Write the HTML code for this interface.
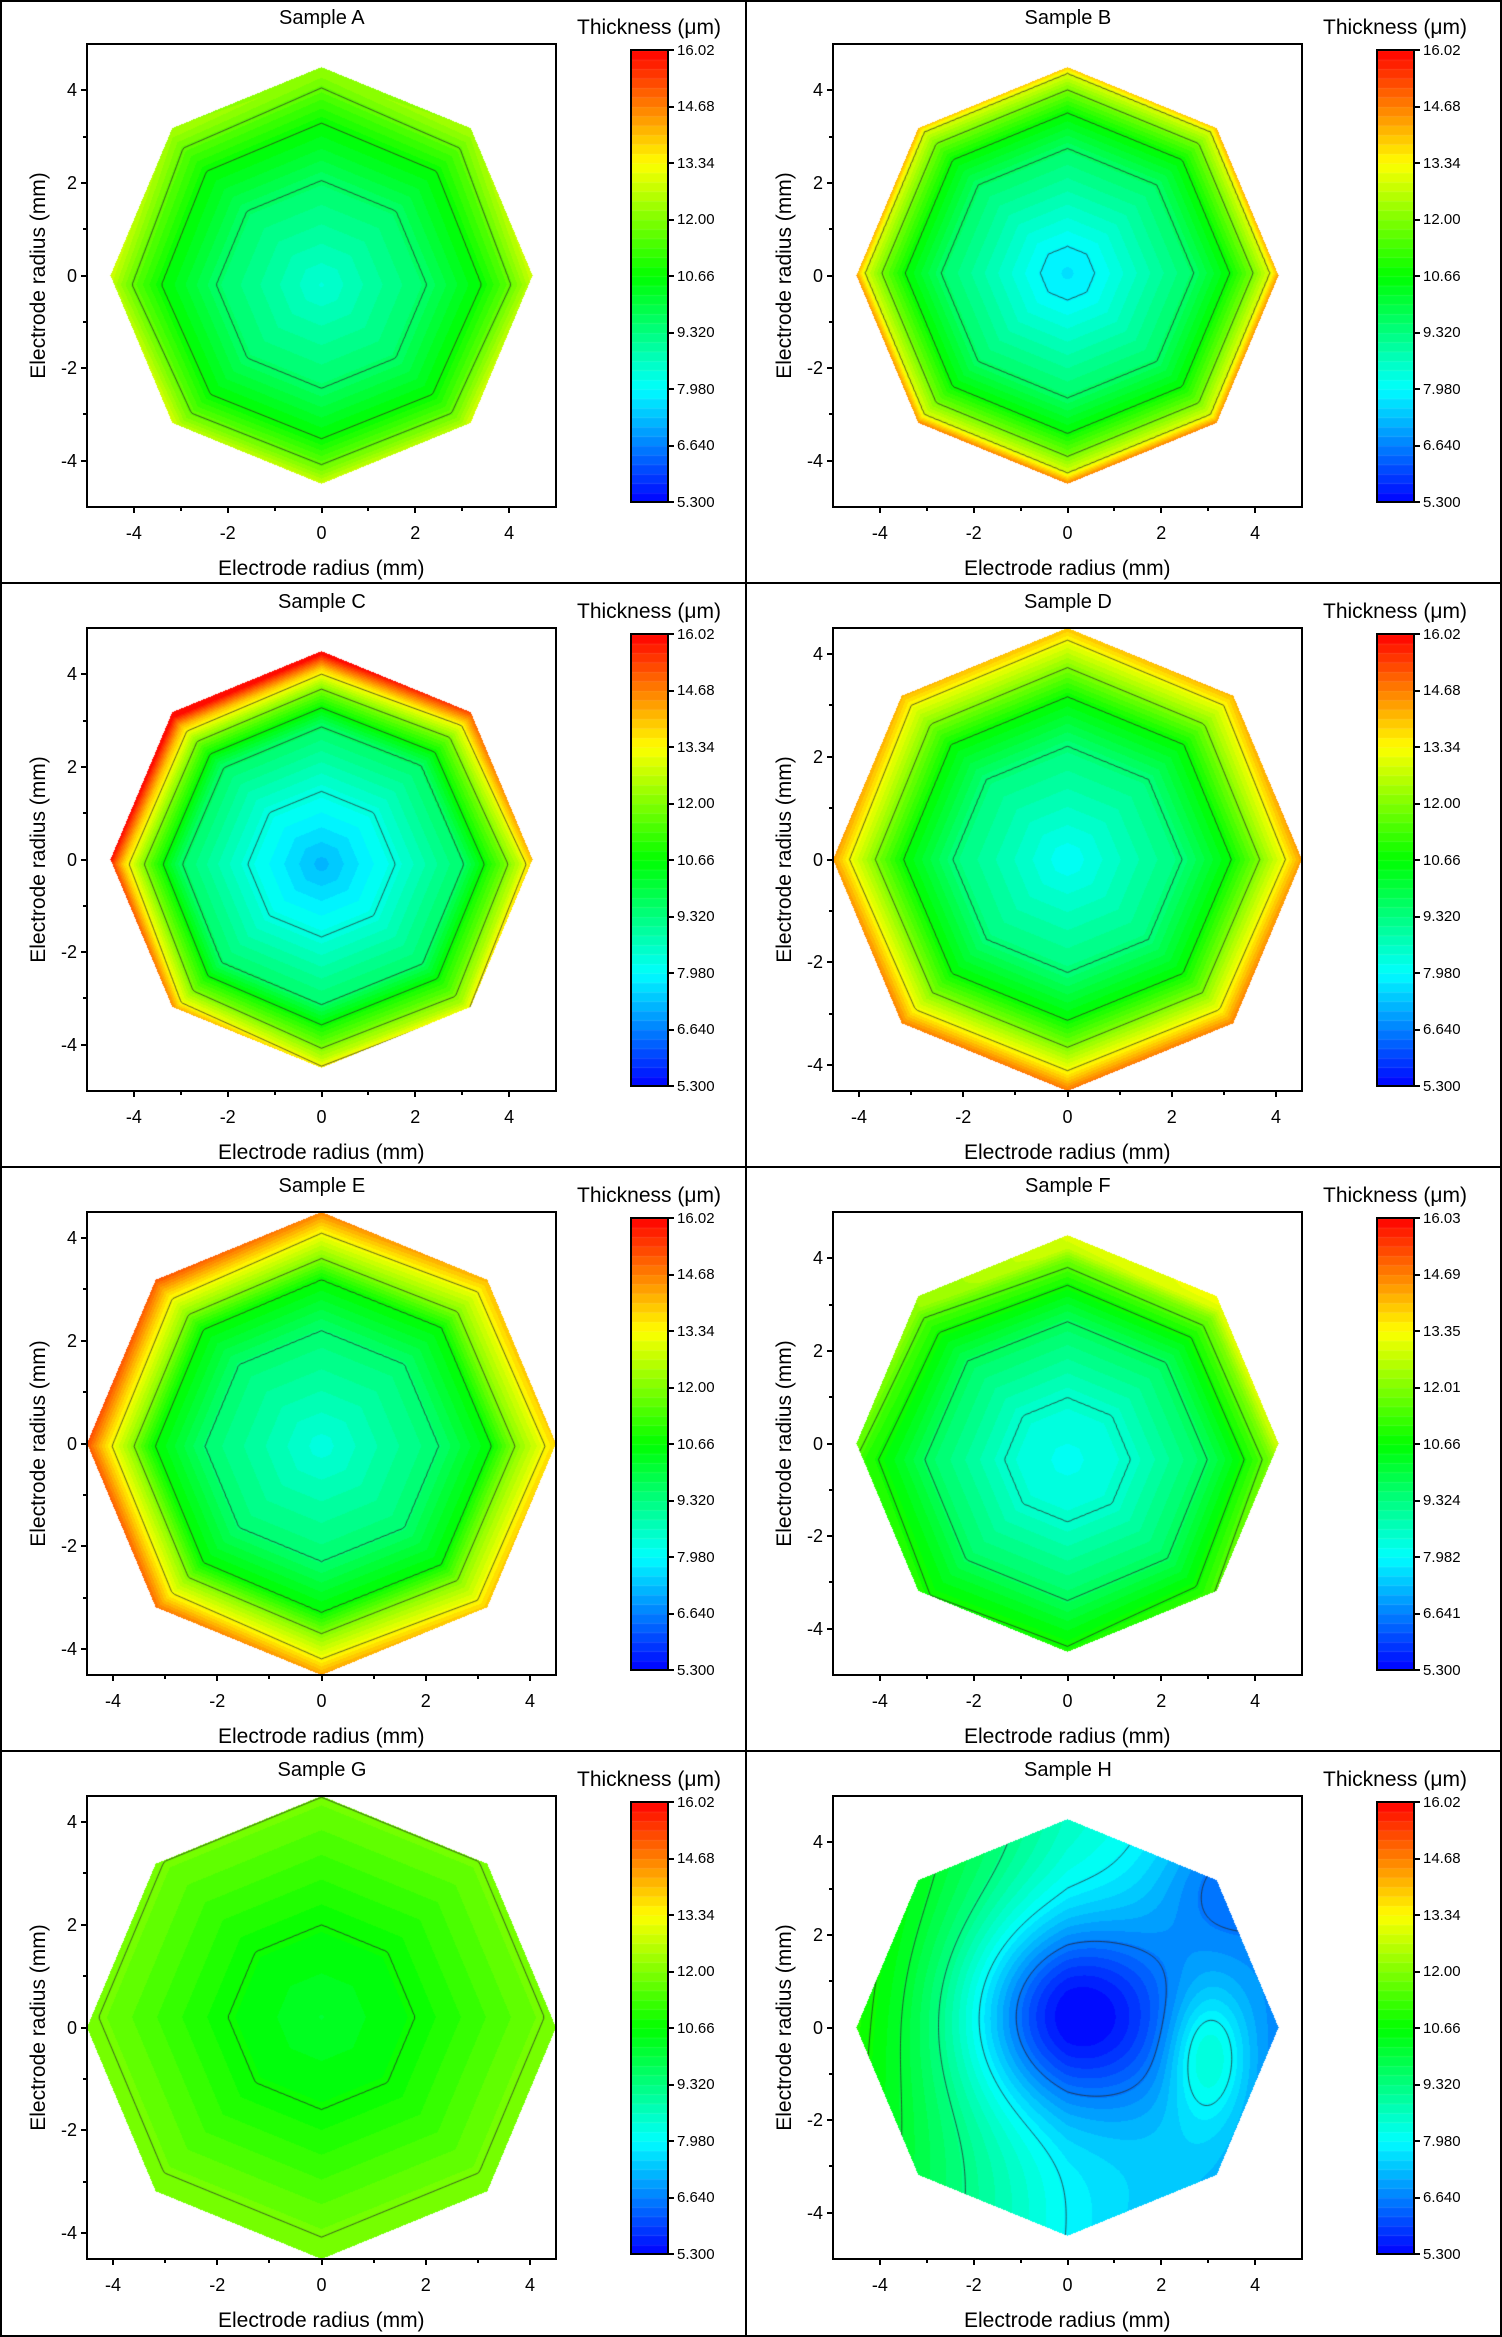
<!DOCTYPE html>
<html><head><meta charset="utf-8">
<style>
body{margin:0;background:#fff;}
#root{position:relative;width:1502px;height:2337px;overflow:hidden;background:#fff;font-family:"Liberation Sans",Arial,sans-serif;color:#000;}
.t{position:absolute;white-space:nowrap;line-height:1;}
.ln{position:absolute;background:#000;}
canvas{position:absolute;}
</style></head>
<body><div id="root"></div>
<script>
var root=document.getElementById('root');
function el(tag,css,txt){var e=document.createElement(tag);e.style.cssText=css;if(txt!==undefined)e.textContent=txt;root.appendChild(e);return e;}
function txt(s,x,y,size,anchor,extra){var e=el('div','font-size:'+size+'px;left:'+x+'px;top:'+y+'px;'+(extra||''),s);e.className='t';
 var w=e.offsetWidth,h=e.offsetHeight; if(anchor==='c'){e.style.left=(x-w/2)+'px';e.style.top=(y-h/2)+'px';}
 else if(anchor==='l'){e.style.top=(y-h/2)+'px';} else if(anchor==='r'){e.style.left=(x-w)+'px';e.style.top=(y-h/2)+'px';}return e;}
function line(x,y,w,h){var e=el('div','left:'+x+'px;top:'+y+'px;width:'+w+'px;height:'+h+'px;');e.className='ln';}
var VMIN=5.3,VMAX=16.02,NB=48,STEP=(VMAX-VMIN)/NB;
function cmap(v){var t=(v-VMIN)/(VMAX-VMIN);t=Math.max(0,Math.min(1,t));var s=t*4,i=Math.min(3,Math.floor(s)),f=s-i;
 var c=[[0,0,255],[0,255,255],[0,255,0],[255,255,0],[255,0,0]];var a=c[i],b=c[i+1];
 return [a[0]+(b[0]-a[0])*f,a[1]+(b[1]-a[1])*f,a[2]+(b[2]-a[2])*f];}
function qcol(v){var b=Math.floor((v-VMIN)/STEP);b=Math.max(0,Math.min(NB-1,b));return cmap(VMIN+(b+0.5)*STEP);}
var C22=Math.cos(Math.PI/8);
function oct(dx,dy){var r=Math.hypot(dx,dy);if(r===0)return 0;var th=Math.atan2(dy,dx);var q=Math.PI/4;
 var phi=((th%q)+q)%q-Math.PI/8;return r/(4.5*C22/Math.cos(phi));}
function interp(p,x){if(x<=p[0][0])return p[0][1];for(var i=1;i<p.length;i++){if(x<=p[i][0]){var a=p[i-1],b=p[i];return a[1]+(b[1]-a[1])*(x-a[0])/(b[0]-a[0]);}}
 var a=p[p.length-2],b=p[p.length-1];return b[1]+(b[1]-a[1])*(x-b[0])/(b[0]-a[0]);}
function profF(s){return function(x,y){var rho=oct(x-(s.cx||0),y-(s.cy||0));var v=interp(s.prof,Math.min(rho,1.02));
 if(s.asym){v+=Math.pow(Math.min(rho,1.05),6)*(s.asym[0]*x+s.asym[1]*y)/4.5;}return v;};}
function g(x,y,x0,y0,a,sx,sy){sy=sy||sx;return a*Math.exp(-((x-x0)*(x-x0)/(2*sx*sx)+(y-y0)*(y-y0)/(2*sy*sy)));}
var hF=function(x,y){return 8.3-(x<0?0.6:0.35)*x+0.08*y+g(x,y,0,0.3,-3.0,1.6,1.5)+g(x,y,3,-0.6,1.6,0.6,1.0)+g(x,y,3.3,3.1,-0.9,1.0)+g(x,y,3,-2.8,0.3,1.0);};
var P=[
 {n:'Sample A',c:0,r:0,xr:5,yr:5,cy:-0.2,prof:[[0,8.4],[0.5,9.6],[0.76,10.7],[0.9,11.7],[1,12.7]],lines:[0.5,0.76,0.9],asym:[0,-0.7]},
 {n:'Sample B',c:1,r:0,xr:5,yr:5,cy:0.05,prof:[[0,7.7],[0.13,7.95],[0.6,9.6],[0.77,10.7],[0.88,11.9],[0.96,13.0],[1,14.3]],lines:[0.13,0.6,0.77,0.88,0.96]},
 {n:'Sample C',c:0,r:1,xr:5,yr:5,cy:-0.1,prof:[[0,7.2],[0.35,8.3],[0.67,9.6],[0.76,10.7],[0.86,12.0],[0.94,13.3],[1,14.8]],lines:[0.35,0.67,0.76,0.86,0.94],asym:[-0.9,0.9]},
 {n:'Sample D',c:1,r:1,xr:4.5,yr:4.5,cy:0,prof:[[0,8.0],[0.49,9.4],[0.7,10.7],[0.82,12.0],[0.93,13.3],[1,14.4]],lines:[0.49,0.7,0.82,0.93],asym:[0,-0.4]},
 {n:'Sample E',c:0,r:2,xr:4.5,yr:4.5,cy:-0.05,prof:[[0,8.3],[0.5,9.5],[0.72,10.7],[0.81,12],[0.92,13.3],[1,14.5]],lines:[0.5,0.72,0.81,0.92],asym:[-0.7,0]},
 {n:'Sample F',c:1,r:2,xr:5,yr:5,cy:-0.35,prof:[[0,8.1],[0.3,8.5],[0.67,9.7],[0.86,10.8],[0.96,11.5],[1,12.0]],lines:[0.3,0.67,0.86,0.96],asym:[0.5,0.5],cb:['16.03','14.69','13.35','12.01','10.66','9.324','7.982','6.641','5.300']},
 {n:'Sample G',c:0,r:3,xr:4.5,yr:4.5,cy:0.2,prof:[[0,10.2],[0.4,10.7],[0.95,11.85],[1,11.95]],lines:[0.4,0.95]},
 {n:'Sample H',c:1,r:3,xr:5,yr:5,H:true}
];
var PL=87,PT=44,PW=469,PH=463;
P.forEach(function(s){
 var ox=s.c?746:0,oy=s.r*584;
 var f=s.H?hF:profF(s);
 var levels;
 if(s.H){levels=[hF(-4.2,0),hF(-3.55,0),hF(-2.75,0),6.6,7.95];}
 else levels=s.lines.map(function(r){return interp(s.prof,r);});
 var cv=document.createElement('canvas');cv.width=PW;cv.height=PH;cv.style.left=(ox+PL)+'px';cv.style.top=(oy+PT)+'px';root.appendChild(cv);
 var ctx=cv.getContext('2d');var img=ctx.createImageData(PW,PH);var d=img.data;
 function dx(px){return -s.xr+px/PW*2*s.xr;} function dy(py){return s.yr-py/PH*2*s.yr;}
 function px(x){return (x+s.xr)/(2*s.xr)*PW;} function py(y){return (s.yr-y)/(2*s.yr)*PH;}
 for(var j=0;j<PH;j++)for(var i=0;i<PW;i++){var x=dx(i+0.5),y=dy(j+0.5);if(oct(x,y)>1)continue;
  var c=qcol(f(x,y));var k=(j*PW+i)*4;d[k]=c[0];d[k+1]=c[1];d[k+2]=c[2];d[k+3]=255;}
 ctx.putImageData(img,0,0);
 ctx.save();ctx.beginPath();for(var a=0;a<8;a++){var an=a*Math.PI/4;var X=px(4.5*Math.cos(an)),Y=py(4.5*Math.sin(an));if(a)ctx.lineTo(X,Y);else ctx.moveTo(X,Y);}ctx.closePath();ctx.clip();
 ctx.strokeStyle='rgba(40,40,40,0.85)';ctx.lineWidth=0.9;
 var N=160,grid=[];for(var i=0;i<=N;i++){grid.push([]);for(var j=0;j<=N;j++){var x=-4.6+9.2*i/N,y=-4.6+9.2*j/N;grid[i].push(f(x,y));}}
 function gx(i){return px(-4.6+9.2*i/N);} function gy(j){return py(-4.6+9.2*j/N);}
 ctx.beginPath();
 levels.forEach(function(L){
  for(var i=0;i<N;i++)for(var j=0;j<N;j++){
   var v0=grid[i][j],v1=grid[i+1][j],v2=grid[i+1][j+1],v3=grid[i][j+1];var pts=[];
   function e(va,vb,xa,ya,xb,yb){if((va<L)!==(vb<L)){var t=(L-va)/(vb-va);pts.push([xa+(xb-xa)*t,ya+(yb-ya)*t]);}}
   e(v0,v1,gx(i),gy(j),gx(i+1),gy(j));e(v1,v2,gx(i+1),gy(j),gx(i+1),gy(j+1));e(v2,v3,gx(i+1),gy(j+1),gx(i),gy(j+1));e(v3,v0,gx(i),gy(j+1),gx(i),gy(j));
   for(var k=0;k+1<pts.length;k+=2){ctx.moveTo(pts[k][0],pts[k][1]);ctx.lineTo(pts[k+1][0],pts[k+1][1]);}
  }});
 ctx.stroke();ctx.restore();
 var L0=ox+PL,T0=oy+PT;
 line(L0-1,T0-1,2,PH+2);line(L0+PW-1,T0-1,2,PH+2);line(L0-1,T0-1,PW+2,2);line(L0-1,T0+PH-1,PW+2,2);
 for(var t=-4;t<=4;t++){ if(Math.abs(t)>s.xr)continue;var X=L0+px(t),maj=(t%2===0);
  line(X-1,T0+PH,2,maj?6:4); if(maj)txt(String(t),X,T0+PH+26,18,'c');}
 for(var t=-4;t<=4;t++){ if(Math.abs(t)>s.yr)continue;var Y=T0+py(t),maj=(t%2===0);
  line(L0-(maj?6:4),Y-1,maj?6:4,2); if(maj)txt(String(t),L0-10,Y,18,'r');}
 txt('Electrode radius (mm)',L0+PW/2,oy+568,21,'c');
 txt('Electrode radius (mm)',ox+38,T0+PH/2,21,'c','transform:rotate(-90deg);');
 txt(s.n,ox+322,oy+18,20,'c');
 txt('Thickness (\u03bcm)',ox+649,oy+27,21,'c');
 var cb=document.createElement('canvas');cb.width=37;cb.height=452;cb.style.left=(ox+631)+'px';cb.style.top=(oy+50)+'px';root.appendChild(cb);
 var c2=cb.getContext('2d');var bh=452/NB;
 for(var b=0;b<NB;b++){var c=cmap(VMIN+(b+0.5)*STEP);c2.fillStyle='rgb('+c.map(Math.round).join(',')+')';c2.fillRect(0,452-(b+1)*bh,37,bh+0.5);
  c2.fillStyle='rgba(255,255,255,0.25)';c2.fillRect(0,452-(b+1)*bh,37,0.8);}
 line(ox+630,oy+49,2,454);line(ox+667,oy+49,2,454);line(ox+630,oy+49,39,2);line(ox+630,oy+501,39,2);
 var labs=s.cb||['16.02','14.68','13.34','12.00','10.66','9.320','7.980','6.640','5.300'];
 for(var k=0;k<9;k++){var Y=oy+50+k*452/8;line(ox+668,Y-1,6,2);txt(labs[k],ox+677,Y,15,'l');}
});
line(0,0,1502,2);line(0,2335,1502,2);line(0,0,2,2337);line(1500,0,2,2337);
line(745,0,2,2337);line(0,582,1502,2);line(0,1166,1502,2);line(0,1750,1502,2);
</script>
</body></html>
